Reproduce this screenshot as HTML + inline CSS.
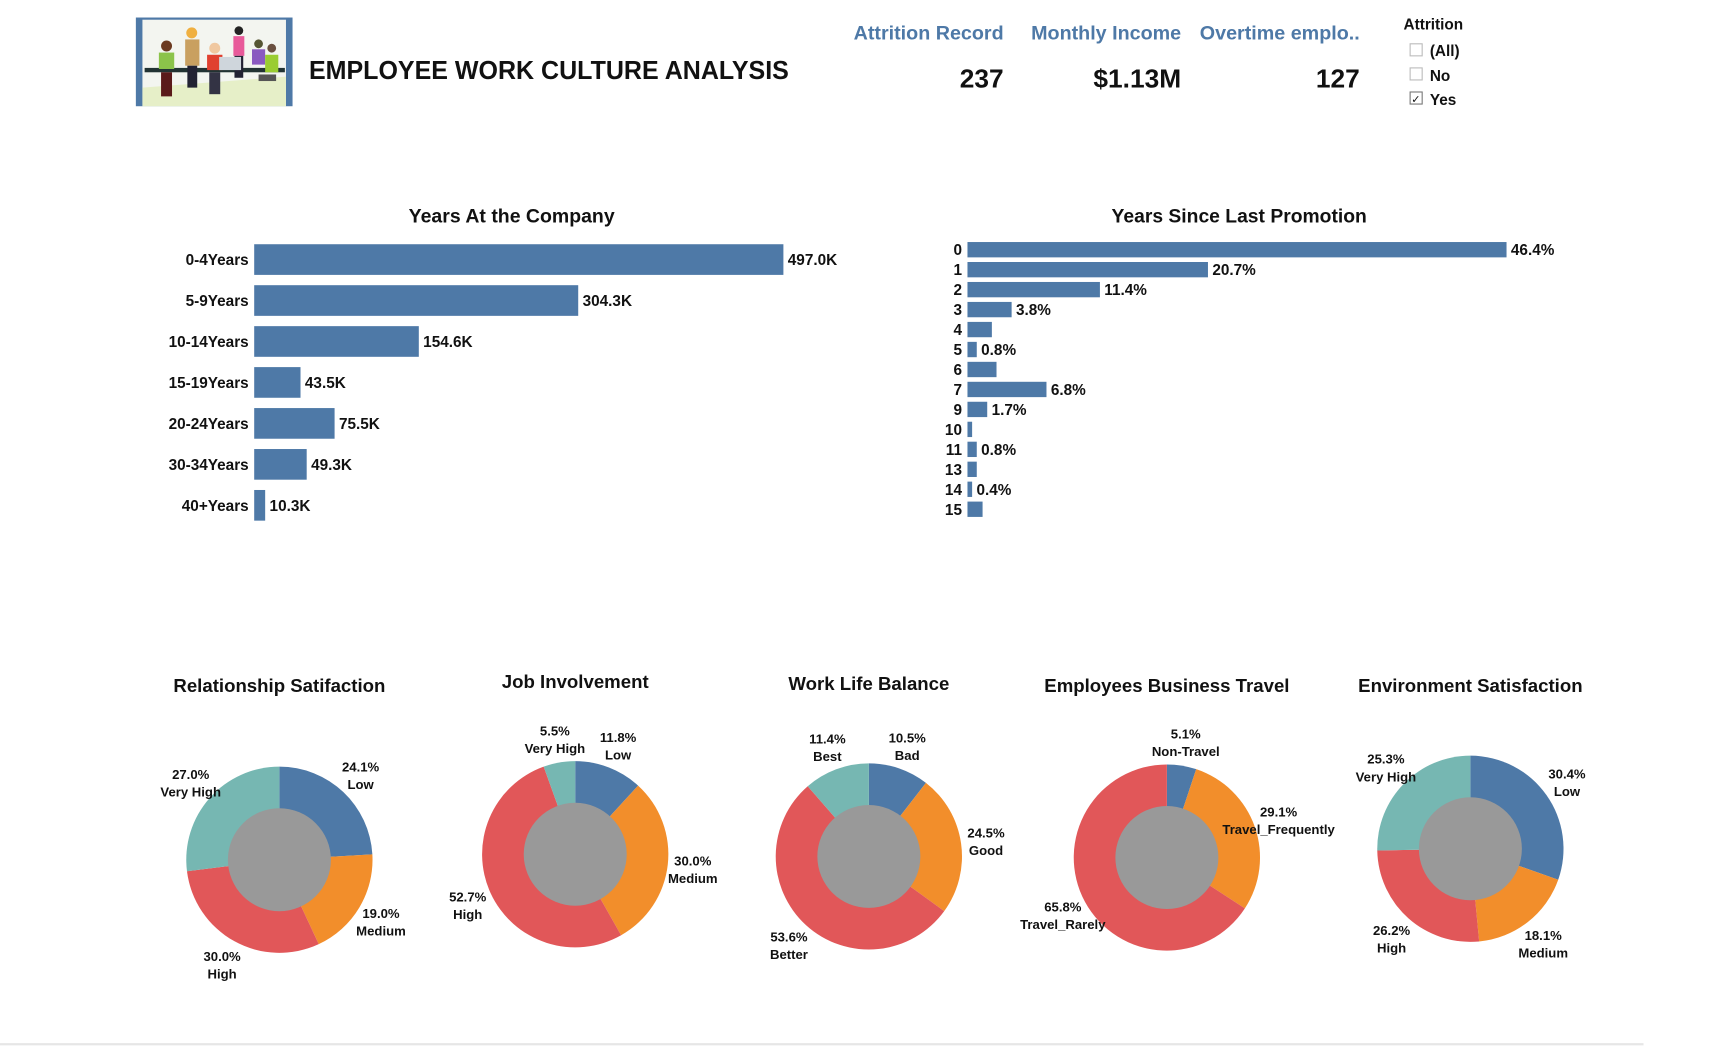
<!DOCTYPE html>
<html><head><meta charset="utf-8">
<style>
html,body{margin:0;padding:0;background:#fff;width:1718px;height:1047px;overflow:hidden}
svg{display:block}
text{font-family:"Liberation Sans",sans-serif;font-weight:bold;fill:#111}
</style></head>
<body>
<svg id="root" width="1718" height="1047" viewBox="0 0 1568 956" preserveAspectRatio="none" xmlns="http://www.w3.org/2000/svg">
  <g>
    <rect x="124" y="16" width="143" height="81" fill="#4e79a7"/>
    <rect x="130" y="18" width="131" height="79" fill="#f3f5f0"/>
    <polygon points="130,80 261,70 261,97 130,97" fill="#e6efc8"/>
    <rect x="132" y="62" width="128" height="4" fill="#233"/>
    <circle cx="152" cy="42" r="5" fill="#6b3a20"/><rect x="145" y="48" width="14" height="15" fill="#8bc34a"/><rect x="147" y="66" width="10" height="22" fill="#5a1a1a"/>
    <circle cx="175" cy="30" r="5" fill="#f0b040"/><rect x="169" y="36" width="13" height="24" fill="#c9a060"/><rect x="171" y="60" width="9" height="20" fill="#223"/>
    <circle cx="196" cy="44" r="5" fill="#f0c8a0"/><rect x="189" y="50" width="14" height="14" fill="#e04030"/><rect x="191" y="66" width="10" height="20" fill="#334"/>
    <circle cx="218" cy="28" r="4" fill="#222"/><rect x="213" y="33" width="10" height="18" fill="#e85a9a"/><rect x="214" y="51" width="8" height="20" fill="#223"/>
    <circle cx="236" cy="40" r="4" fill="#553"/><rect x="230" y="45" width="12" height="14" fill="#8a5ac0"/>
    <circle cx="248" cy="44" r="4" fill="#6a5040"/><rect x="242" y="50" width="12" height="16" fill="#9acd32"/><rect x="236" y="68" width="16" height="6" fill="#555"/>
    <rect x="200" y="52" width="20" height="12" fill="#cfd6dc"/>
  </g>
  <text x="282" y="72" font-size="24" textLength="438" lengthAdjust="spacingAndGlyphs">EMPLOYEE WORK CULTURE ANALYSIS</text>

  <g>
    <text x="916" y="36" font-size="18" text-anchor="end" style="fill:#4e79a7">Attrition Record</text>
    <text x="916" y="80" font-size="24" text-anchor="end">237</text>
  </g>
  <g>
    <text x="1078" y="36" font-size="18" text-anchor="end" style="fill:#4e79a7">Monthly Income</text>
    <text x="1078" y="80" font-size="24" text-anchor="end">$1.13M</text>
  </g>
  <g>
    <text x="1241" y="36" font-size="18" text-anchor="end" style="fill:#4e79a7">Overtime emplo..</text>
    <text x="1241" y="80" font-size="24" text-anchor="end">127</text>
  </g>

  <g>
    <text x="1281" y="27" font-size="14" font-weight="bold">Attrition</text>
    <g><rect x="1287" y="40" width="11" height="11" fill="#fff" stroke="#bbb"/><text x="1305" y="51" font-size="14">(All)</text></g>
    <g><rect x="1287" y="62" width="11" height="11" fill="#fff" stroke="#bbb"/><text x="1305" y="74" font-size="14">No</text></g>
    <g><rect x="1287" y="84" width="11" height="11" fill="#fff" stroke="#777"/><text x="1288" y="94" font-size="10" style="font-weight:normal">✓</text><text x="1305" y="96" font-size="14">Yes</text></g>
  </g>

  <text x="467" y="203" font-size="18" text-anchor="middle" textLength="188" lengthAdjust="spacingAndGlyphs">Years At the Company</text>
  <g id="yac"></g>
  <text x="1131" y="203" font-size="18" text-anchor="middle" textLength="233" lengthAdjust="spacingAndGlyphs">Years Since Last Promotion</text>
  <g id="ysp"></g>
  <g id="donuts"></g>
  <line x1="0" y1="953.5" x2="1500" y2="953.5" stroke="#e6e6e6" stroke-width="2"/>
</svg>
<script>
const NS="http://www.w3.org/2000/svg";
// Years At the Company
const yacCategories=["0-4Years","5-9Years","10-14Years","15-19Years","20-24Years","30-34Years","40+Years"];
const yacValues=[497.0,304.3,154.6,43.5,75.5,49.3,10.3];
const yacLabels=["497.0K","304.3K","154.6K","43.5K","75.5K","49.3K","10.3K"];
// Years Since Last Promotion
const yspCategories=["0","1","2","3","4","5","6","7","9","10","11","13","14","15"];
const yspValues=[46.4,20.7,11.4,3.8,2.1,0.8,2.5,6.8,1.7,0.4,0.8,0.8,0.4,1.3];
const yspLabels=["46.4%","20.7%","11.4%","3.8%","","0.8%","","6.8%","1.7%","","0.8%","","0.4%",""];
// Donuts
const donutTitles=["Relationship Satifaction","Job Involvement","Work Life Balance","Employees Business Travel","Environment Satisfaction"];
const relCats=["Low","Medium","High","Very High"], relVals=[24.1,19.0,30.0,27.0];
const jobCats=["Low","Medium","High","Very High"], jobVals=[11.8,30.0,52.7,5.5];
const wlbCats=["Bad","Good","Better","Best"], wlbVals=[10.5,24.5,53.6,11.4];
const trvCats=["Non-Travel","Travel_Frequently","Travel_Rarely"], trvVals=[5.1,29.1,65.8];
const envCats=["Low","Medium","High","Very High"], envVals=[30.4,18.1,26.2,25.3];

function mk(tag,attrs,parent){const e=document.createElementNS(NS,tag);for(const k in attrs)e.setAttribute(k,attrs[k]);parent.appendChild(e);return e;}

function barChart(gid,cats,vals,labels,x0,pxPerUnit,y0,step,h,fs){
  const g=document.getElementById(gid);
  const xs=v=>x0+v*pxPerUnit, ys=i=>y0+i*step;
  cats.forEach((c,i)=>{
    const t=mk("text",{x:x0-5,y:ys(i)+fs*0.36,"font-size":fs,"text-anchor":"end"},g);t.textContent=c;
    
    
    const r=mk("rect",{x:x0,y:ys(i)-h/2,width:Math.max(1,xs(vals[i])-x0),height:h,fill:"#4e79a7"},g);
    
    
    if(labels[i]){const l=mk("text",{x:xs(vals[i])+4,y:ys(i)+fs*0.36,"font-size":fs},g);l.textContent=labels[i];
      
      }
  });
}
barChart("yac",yacCategories,yacValues,yacLabels,232,483/497,237,37.4,28,14);
barChart("ysp",yspCategories,yspValues,yspLabels,883,492/46.4,228,18.23,14,14);

const colors=["#4e79a7","#f28e2b","#e15759","#76b7b2"];
const donutData=[[relCats,relVals],[jobCats,jobVals],[wlbCats,wlbVals],[trvCats,trvVals],[envCats,envVals]];
const centers=[[255,785],[525,780],[793,782],[1065,783],[1342,775]];
const titlePos=[[255,632],[525,628],[793,630],[1065,632],[1342,632]];
const dg=document.getElementById("donuts");
donutData.forEach(([cats,vals],d)=>{
  const [cx,cy]=centers[d];
  const g=mk("g",{},dg);
  
  
  const tt=mk("text",{x:titlePos[d][0],y:titlePos[d][1],"font-size":17,"text-anchor":"middle"},g);tt.textContent=donutTitles[d];
  
  
  const total=vals.reduce((a,b)=>a+b,0);
  let acc=0;const R=85,ri=47;
  vals.forEach((v,i)=>{
    const a0=acc/total*2*Math.PI, a1=(acc+v)/total*2*Math.PI; acc+=v;
    const p=a=>[cx+R*Math.sin(a),cy-R*Math.cos(a)];
    const [x0,y0]=p(a0),[x1,y1]=p(a1);
    const large=(a1-a0)>Math.PI?1:0;
    const s=mk("path",{d:`M${cx},${cy} L${x0},${y0} A${R},${R} 0 ${large} 1 ${x1},${y1} Z`,fill:colors[i]},g);
    
    
    const am=(a0+a1)/2, lr=108;
    const lx=cx+lr*Math.sin(am), ly=cy-lr*Math.cos(am);
    const l1=mk("text",{x:lx,y:ly-2,"font-size":12,"text-anchor":"middle"},g);l1.textContent=v.toFixed(1)+"%";
    
    
    const l2=mk("text",{x:lx,y:ly+14,"font-size":12,"text-anchor":"middle"},g);l2.textContent=cats[i];
    
    
  });
  const hole=mk("circle",{cx:cx,cy:cy,r:ri,fill:"#999"},g);
  
  
});
</script>
</body></html>
